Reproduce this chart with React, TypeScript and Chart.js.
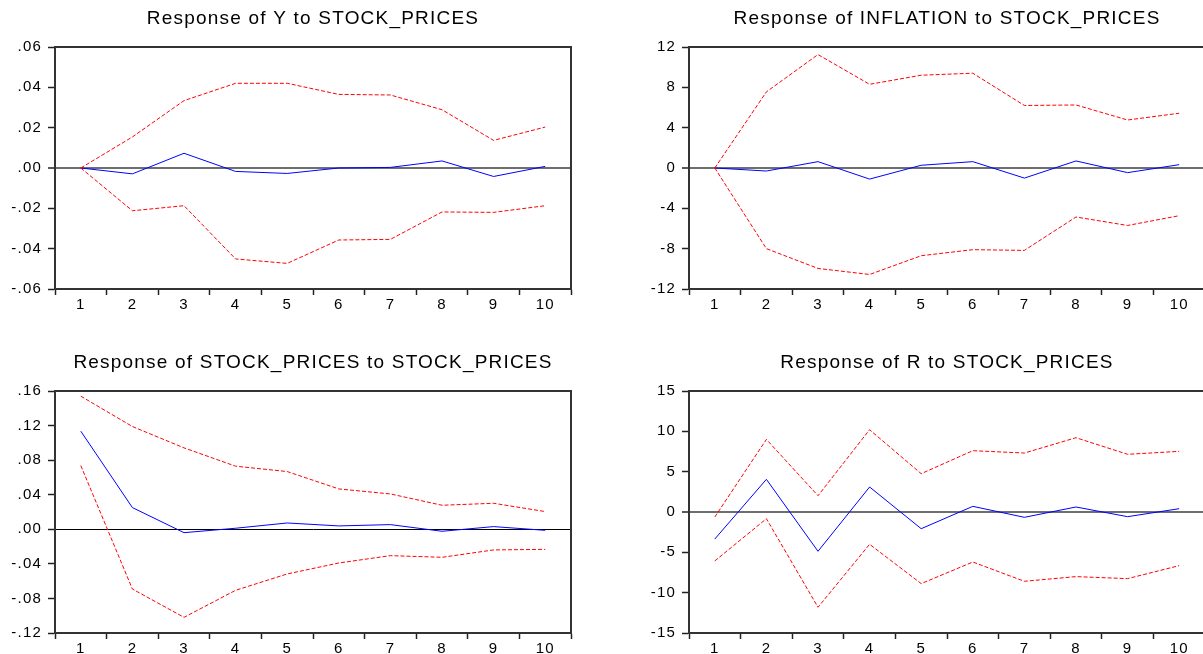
import React, { useEffect, useRef } from 'react';
import { Chart, registerables } from 'chart.js';

Chart.register(...registerables);

// Forecast horizon (periods after the shock)
const periods = ['1', '2', '3', '4', '5', '6', '7', '8', '9', '10'];

// Response of Y to STOCK_PRICES
const yResponse = [0, -0.0029, 0.0073, -0.0017, -0.0027, 0.0, 0.0003, 0.0035, -0.0042, 0.0008];
const yUpper = [0, 0.0154, 0.0334, 0.042, 0.042, 0.0365, 0.0362, 0.0289, 0.0137, 0.0203];
const yLower = [0, -0.0212, -0.0187, -0.0451, -0.0473, -0.0357, -0.0354, -0.0218, -0.022, -0.0187];
const yTickValues = [-0.06, -0.04, -0.02, 0, 0.02, 0.04, 0.06];
const yTickLabels = ['-.06', '-.04', '-.02', '.00', '.02', '.04', '.06'];

// Response of INFLATION to STOCK_PRICES
const inflResponse = [0, -0.3, 0.63, -1.1, 0.27, 0.63, -1.0, 0.7, -0.46, 0.33];
const inflUpper = [0, 7.55, 11.25, 8.3, 9.2, 9.4, 6.2, 6.25, 4.76, 5.43];
const inflLower = [0, -8.0, -9.96, -10.56, -8.7, -8.1, -8.17, -4.86, -5.7, -4.73];
const inflTickValues = [-12, -8, -4, 0, 4, 8, 12];
const inflTickLabels = ['-12', '-8', '-4', '0', '4', '8', '12'];

// Response of STOCK_PRICES to STOCK_PRICES
const spResponse = [0.1135, 0.0251, -0.0039, 0.0012, 0.0073, 0.0039, 0.0054, -0.0023, 0.0031, -0.0012];
const spUpper = [0.154, 0.1189, 0.0942, 0.073, 0.0668, 0.0467, 0.0409, 0.0278, 0.0301, 0.0205];
const spLower = [0.0737, -0.0691, -0.1019, -0.0706, -0.0517, -0.039, -0.0305, -0.0324, -0.0239, -0.0232];
const spTickValues = [-0.12, -0.08, -0.04, 0, 0.04, 0.08, 0.12, 0.16];
const spTickLabels = ['-.12', '-.08', '-.04', '.00', '.04', '.08', '.12', '.16'];

// Response of R to STOCK_PRICES
const rResponse = [-3.35, 4.05, -4.87, 3.1, -2.07, 0.7, -0.66, 0.62, -0.58, 0.41];
const rUpper = [-0.62, 9.0, 2.02, 10.2, 4.75, 7.6, 7.31, 9.21, 7.15, 7.52];
const rLower = [-6.07, -0.83, -11.81, -4.0, -8.88, -6.2, -8.59, -8.01, -8.26, -6.65];
const rTickValues = [-15, -10, -5, 0, 5, 10, 15];
const rTickLabels = ['-15', '-10', '-5', '0', '5', '10', '15'];

const FONT = '"Liberation Sans", Arial, Helvetica, sans-serif';
const PANEL_W = 634;
const PANEL_H = 330;
const AXIS_DARK = '#222222';

// Wider tracking for all text on the canvas
const spacingPlugin = {
  id: 'letterSpacing',
  beforeDraw(chart: any) {
    chart.ctx.letterSpacing = '1.2px';
  },
};

// Box around the whole plot area
const framePlugin = {
  id: 'plotFrame',
  afterDraw(chart: any) {
    const { ctx, chartArea } = chart;
    ctx.save();
    ctx.strokeStyle = '#333333';
    ctx.lineWidth = 2;
    ctx.strokeRect(chartArea.left, chartArea.top, chartArea.right - chartArea.left, chartArea.bottom - chartArea.top);
    ctx.restore();
  },
};

type PanelProps = {
  title: string;
  response: number[];
  upper: number[];
  lower: number[];
  tickValues: number[];
  tickLabels: string[];
  zeroColor: string;
  zeroWidth: number;
  left: number;
  top: number;
};

function IrfPanel(props: PanelProps) {
  const ref = useRef<HTMLCanvasElement | null>(null);

  useEffect(() => {
    if (!ref.current) return;
    const { title, response, upper, lower, tickValues, tickLabels, zeroColor, zeroWidth } = props;
    const band = {
      borderColor: '#ff0000',
      borderWidth: 1,
      borderDash: [4, 2],
      pointRadius: 0,
      fill: false,
      tension: 0,
    };
    const chart = new Chart(ref.current, {
      type: 'line',
      data: {
        labels: periods,
        datasets: [
          { ...band, data: upper },
          { ...band, data: lower },
          { data: response, borderColor: '#0000ff', borderWidth: 1, pointRadius: 0, fill: false, tension: 0 },
        ],
      },
      options: {
        responsive: true,
        maintainAspectRatio: false,
        animation: false,
        devicePixelRatio: 1,
        events: [],
        layout: { padding: { left: 0, right: 63, top: 0, bottom: 11 } },
        plugins: {
          legend: { display: false },
          tooltip: { enabled: false },
          title: {
            display: true,
            text: title,
            fullSize: false,
            color: '#000000',
            font: { family: FONT, size: 19, weight: 'normal', lineHeight: '23px' },
            padding: { top: 7, bottom: 17 },
          },
        },
        scales: {
          x: {
            type: 'category',
            offset: true,
            grid: {
              display: true,
              offset: true,
              drawOnChartArea: false,
              drawTicks: true,
              tickLength: 6,
              tickColor: AXIS_DARK,
              tickWidth: 1.5,
            },
            border: { display: true, color: AXIS_DARK, width: 2 },
            ticks: {
              color: '#000000',
              font: { family: FONT, size: 15 },
              padding: 1,
              maxRotation: 0,
              autoSkip: false,
            },
            afterFit: (s: any) => {
              s.height = 30;
            },
          },
          y: {
            min: tickValues[0],
            max: tickValues[tickValues.length - 1],
            afterBuildTicks: (s: any) => {
              s.ticks = tickValues.map((v) => ({ value: v }));
            },
            grid: {
              display: true,
              drawOnChartArea: true,
              drawTicks: true,
              tickLength: 7,
              tickColor: AXIS_DARK,
              tickWidth: 1.5,
              color: (c: any) => (c.tick && c.tick.value === 0 ? zeroColor : 'rgba(0,0,0,0)'),
              lineWidth: (c: any) => (c.tick && c.tick.value === 0 ? zeroWidth : 1),
            },
            border: { display: true, color: AXIS_DARK, width: 2 },
            ticks: {
              color: '#000000',
              font: { family: FONT, size: 15 },
              padding: 6,
              callback: (_v: any, i: number) => tickLabels[i],
            },
            afterFit: (s: any) => {
              s.width = 55;
            },
          },
        },
      } as any,
      plugins: [spacingPlugin, framePlugin],
    });
    return () => chart.destroy();
  }, []);

  return (
    <div
      style={{
        position: 'absolute',
        left: props.left,
        top: props.top,
        width: PANEL_W,
        height: PANEL_H,
      }}
    >
      <canvas ref={ref} />
    </div>
  );
}

export default function App() {
  return (
    <div
      style={{
        position: 'absolute',
        left: 0,
        top: 0,
        width: 1203,
        height: 654,
        overflow: 'hidden',
        background: '#ffffff',
      }}
    >
      <IrfPanel
        title="Response of Y to STOCK_PRICES"
        response={yResponse}
        upper={yUpper}
        lower={yLower}
        tickValues={yTickValues}
        tickLabels={yTickLabels}
        zeroColor="#6e6e6e"
        zeroWidth={2}
        left={0}
        top={0}
      />
      <IrfPanel
        title="Response of INFLATION to STOCK_PRICES"
        response={inflResponse}
        upper={inflUpper}
        lower={inflLower}
        tickValues={inflTickValues}
        tickLabels={inflTickLabels}
        zeroColor="#6e6e6e"
        zeroWidth={2}
        left={634}
        top={0}
      />
      <IrfPanel
        title="Response of STOCK_PRICES to STOCK_PRICES"
        response={spResponse}
        upper={spUpper}
        lower={spLower}
        tickValues={spTickValues}
        tickLabels={spTickLabels}
        zeroColor="#000000"
        zeroWidth={1}
        left={0}
        top={344}
      />
      <IrfPanel
        title="Response of R to STOCK_PRICES"
        response={rResponse}
        upper={rUpper}
        lower={rLower}
        tickValues={rTickValues}
        tickLabels={rTickLabels}
        zeroColor="#6e6e6e"
        zeroWidth={2}
        left={634}
        top={344}
      />
    </div>
  );
}
